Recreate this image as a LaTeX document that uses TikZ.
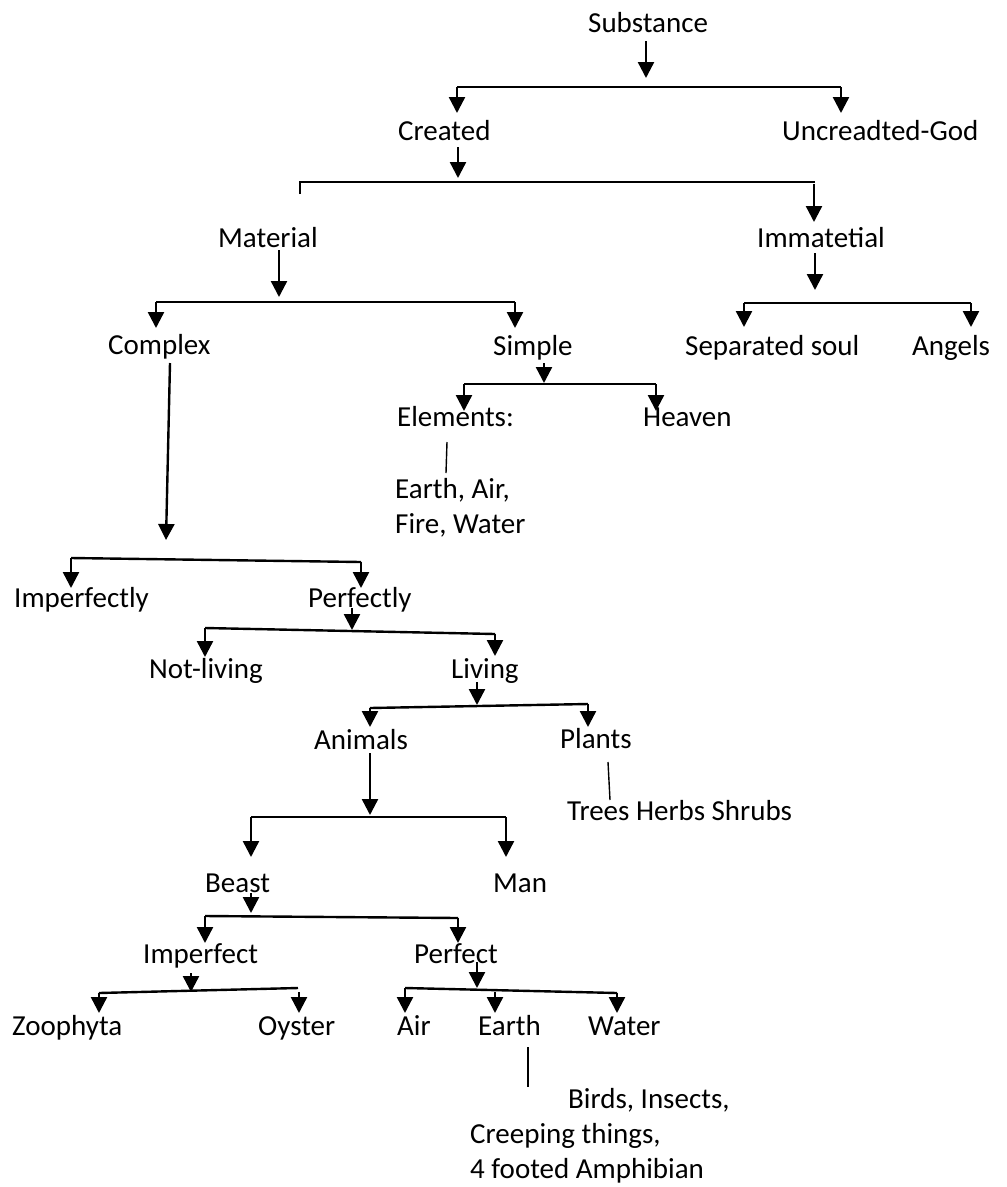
\documentclass[tikz,border=0pt]{standalone}
\usepackage{fontspec}
\setmainfont{Carlito}
\usetikzlibrary{arrows.meta}
\tikzset{
  lbl/.style={anchor=base west, inner sep=0pt, font=\fontsize{29}{35}\selectfont},
  arr/.style={line width=2.4pt, -{Triangle[width=16pt,length=16pt]}},
  ln/.style={line width=2.4pt},
  thinln/.style={line width=1.4pt}
}
\begin{document}
\begin{tikzpicture}[x=1pt,y=-1pt]
\useasboundingbox (0,0) rectangle (1007,1187);
% labels
\node[lbl] (substance) at (588,32) {Substance};
\node[lbl] (created) at (398,140) {Created};
\node[lbl] (uncreated) at (782,140) {Uncreadted-God};
\node[lbl] (material) at (218,247) {Material};
\node[lbl] (immat) at (757,247) {Immatetial};
\node[lbl] (complex) at (108,354) {Complex};
\node[lbl] (simple) at (493,355) {Simple};
\node[lbl] (sepsoul) at (685,355) {Separated soul};
\node[lbl] (angels) at (912,355) {Angels};
\node[lbl] (elements) at (397,426) {Elements:};
\node[lbl] (heaven) at (643,426) {Heaven};
\node[lbl] (eafwa) at (395,498) {Earth, Air,};
\node[lbl] (eafwb) at (395,533) {Fire, Water};
\node[lbl] (imperfectly) at (14,607) {Imperfectly};
\node[lbl] (perfectly) at (308,607) {Perfectly};
\node[lbl] (notliving) at (149,678) {Not-living};
\node[lbl] (living) at (451,678) {Living};
\node[lbl] (animals) at (314,749) {Animals};
\node[lbl] (plants) at (560,748) {Plants};
\node[lbl] (trees) at (567,820) {Trees Herbs Shrubs};
\node[lbl] (beast) at (205,892) {Beast};
\node[lbl] (man) at (493,892) {Man};
\node[lbl] (imperfect) at (143,963) {Imperfect};
\node[lbl] (perfect) at (414,963) {Perfect};
\node[lbl] (zoophyta) at (12,1035) {Zoophyta};
\node[lbl] (oyster) at (258,1035) {Oyster};
\node[lbl] (air) at (397,1035) {Air};
\node[lbl] (earth) at (478,1035) {Earth};
\node[lbl] (water) at (588,1035) {Water};
\node[lbl] (birds) at (568,1108) {Birds, Insects,};
\node[lbl] (creeping) at (470,1143) {Creeping things,};
\node[lbl] (amphib) at (470,1178) {4 footed Amphibian};
% coordinates
\coordinate (s0) at (646,41);   \coordinate (s1) at (646,78);
\coordinate (sl) at (457,87);   \coordinate (sr) at (841,87);
\coordinate (slt) at (457,113); \coordinate (srt) at (841,113);
\coordinate (c0) at (458,147);  \coordinate (c1) at (458,178);
\coordinate (cl) at (300,182);  \coordinate (cr) at (815,182);
\coordinate (clt) at (300,194);
\coordinate (ca0) at (814,184); \coordinate (ca1) at (814,222);
\coordinate (m0) at (279,250);  \coordinate (m1) at (279,297);
\coordinate (ml) at (156,302);  \coordinate (mr) at (515,302);
\coordinate (mlt) at (156,328); \coordinate (mrt) at (515,328);
\coordinate (i0) at (815,253);  \coordinate (i1) at (815,290);
\coordinate (il) at (744,303);  \coordinate (ir) at (971,303);
\coordinate (ilt) at (744,327); \coordinate (irt) at (971,327);
\coordinate (x0) at (170,363);  \coordinate (x1) at (166,540);
\coordinate (xl) at (71,558);   \coordinate (xr) at (361,562);
\coordinate (xlt) at (71,588);  \coordinate (xrt) at (361,588);
\coordinate (p0) at (544,363);  \coordinate (p1) at (544,383);
\coordinate (pl) at (464,384);  \coordinate (pr) at (656,384);
\coordinate (plt) at (464,411); \coordinate (prt) at (656,411);
\coordinate (e0) at (447,442);  \coordinate (e1) at (446,473);
\coordinate (f0) at (352,608);  \coordinate (f1) at (352,630);
\coordinate (fl) at (205,628);  \coordinate (fr) at (495,634);
\coordinate (flt) at (205,657); \coordinate (frt) at (495,656);
\coordinate (v0) at (477,682);  \coordinate (v1) at (477,705);
\coordinate (vl) at (370,708);  \coordinate (vr) at (588,704);
\coordinate (vlt) at (370,727); \coordinate (vrt) at (588,727);
\coordinate (t0) at (608,762);  \coordinate (t1) at (610,800);
\coordinate (a0) at (370,753);  \coordinate (a1) at (370,815);
\coordinate (al) at (251,817);  \coordinate (ar) at (506,817);
\coordinate (alt) at (251,857); \coordinate (art) at (506,857);
\coordinate (b0) at (251,893);  \coordinate (b1) at (251,913);
\coordinate (bl) at (205,916);  \coordinate (br) at (458,918);
\coordinate (blt) at (205,943); \coordinate (brt) at (458,943);
\coordinate (q0) at (191,973);  \coordinate (q1) at (191,992);
\coordinate (ql) at (99,993);   \coordinate (qr) at (298,988);
\coordinate (qlt) at (99,1013); \coordinate (qr0) at (299,992); \coordinate (qrt) at (299,1013);
\coordinate (r0) at (477,962);  \coordinate (r1) at (477,988);
\coordinate (rl) at (405,988);  \coordinate (rr) at (617,993);
\coordinate (rlt) at (405,1013); \coordinate (rm0) at (495,992); \coordinate (rmt) at (495,1013);
\coordinate (rrt) at (617,1013);
\coordinate (h0) at (528,1047); \coordinate (h1) at (528,1087);
% connectors
\draw[arr] (s0) -- (s1);
\draw[ln] (sl) -- (sr);
\draw[arr] (sl) -- (slt);
\draw[arr] (sr) -- (srt);
\draw[arr] (c0) -- (c1);
\draw[ln] (clt) -- (cl) -- (cr);
\draw[arr] (ca0) -- (ca1);
\draw[arr] (m0) -- (m1);
\draw[ln] (ml) -- (mr);
\draw[arr] (ml) -- (mlt);
\draw[arr] (mr) -- (mrt);
\draw[arr] (i0) -- (i1);
\draw[ln] (il) -- (ir);
\draw[arr] (il) -- (ilt);
\draw[arr] (ir) -- (irt);
\draw[arr] (x0) -- (x1);
\draw[ln] (xl) -- (xr);
\draw[arr] (xl) -- (xlt);
\draw[arr] (xr) -- (xrt);
\draw[arr] (p0) -- (p1);
\draw[ln] (pl) -- (pr);
\draw[arr] (pl) -- (plt);
\draw[arr] (pr) -- (prt);
\draw[thinln] (e0) -- (e1);
\draw[arr] (f0) -- (f1);
\draw[ln] (fl) -- (fr);
\draw[arr] (fl) -- (flt);
\draw[arr] (fr) -- (frt);
\draw[arr] (v0) -- (v1);
\draw[ln] (vl) -- (vr);
\draw[arr] (vl) -- (vlt);
\draw[arr] (vr) -- (vrt);
\draw[thinln] (t0) -- (t1);
\draw[arr] (a0) -- (a1);
\draw[ln] (al) -- (ar);
\draw[arr] (al) -- (alt);
\draw[arr] (ar) -- (art);
\draw[arr] (b0) -- (b1);
\draw[ln] (bl) -- (br);
\draw[arr] (bl) -- (blt);
\draw[arr] (br) -- (brt);
\draw[arr] (q0) -- (q1);
\draw[ln] (ql) -- (qr);
\draw[arr] (ql) -- (qlt);
\draw[arr] (qr0) -- (qrt);
\draw[arr] (r0) -- (r1);
\draw[ln] (rl) -- (rr);
\draw[arr] (rl) -- (rlt);
\draw[arr] (rm0) -- (rmt);
\draw[arr] (rr) -- (rrt);
\draw[thinln] (h0) -- (h1);
\end{tikzpicture}
\end{document}
